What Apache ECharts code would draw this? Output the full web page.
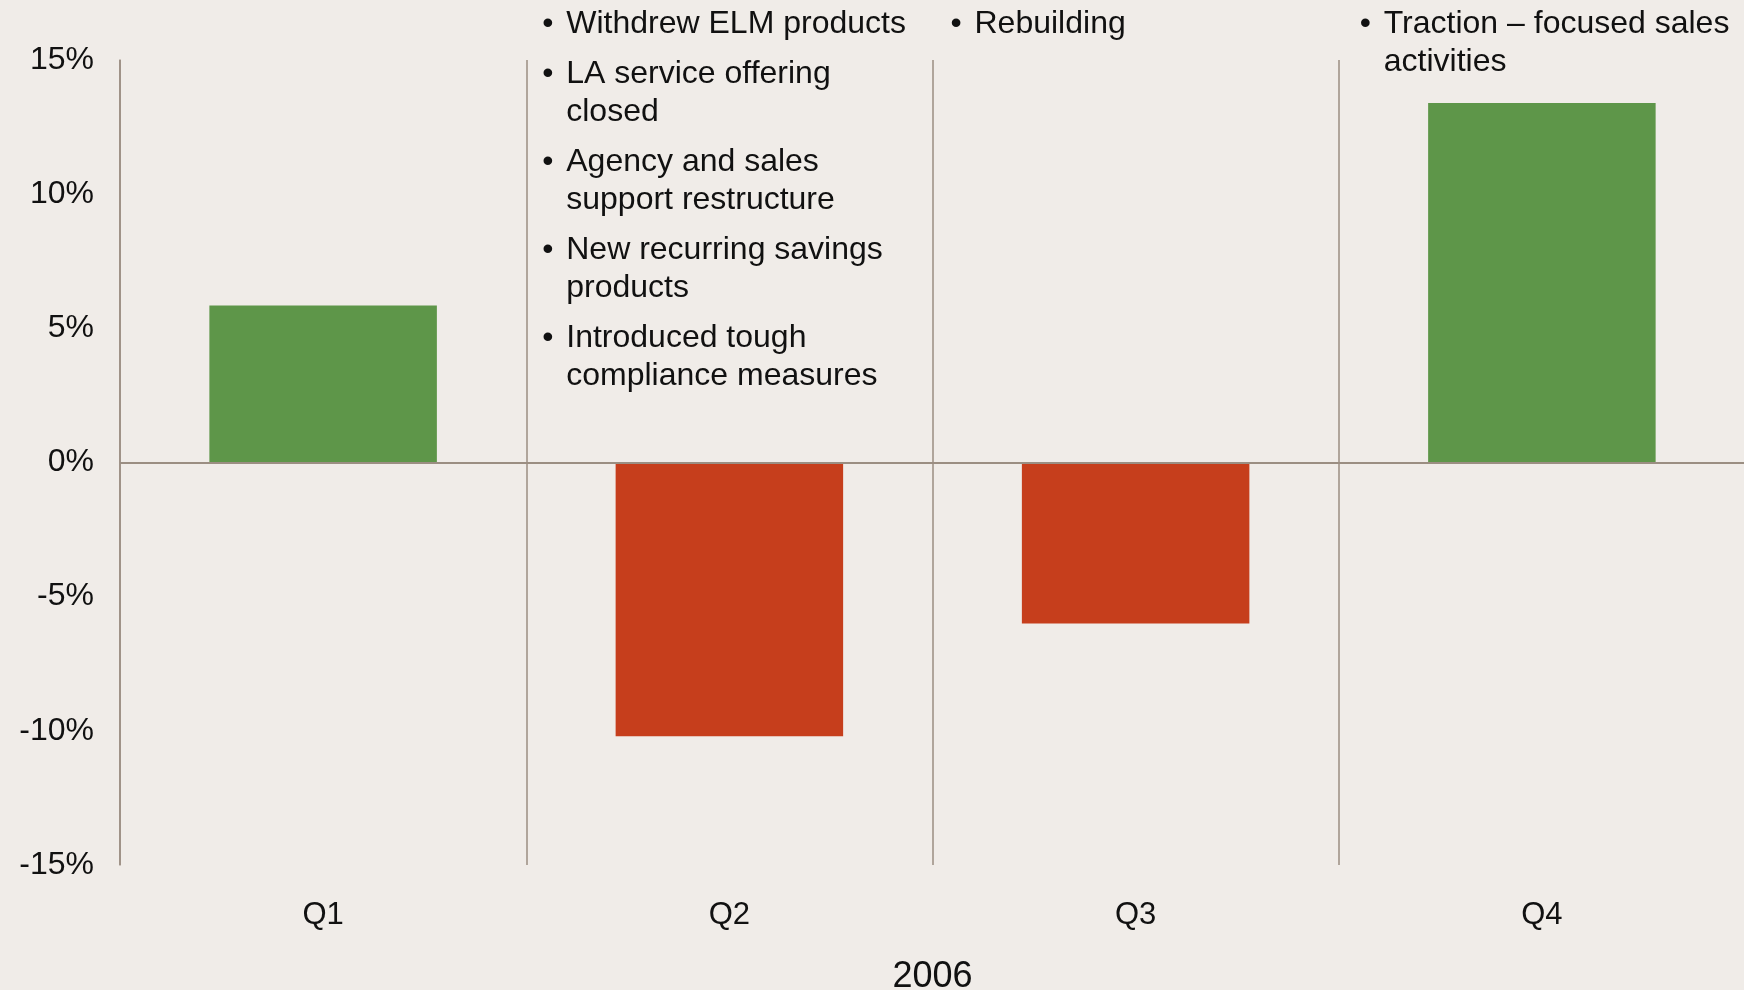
<!DOCTYPE html>
<html>
<head>
<meta charset="utf-8">
<script src="https://cdn.jsdelivr.net/npm/echarts@6/dist/echarts.min.js"></script>
<style>
  html, body { margin: 0; padding: 0; background: #f0ece8; }
  #chart { width: 1744px; height: 990px; }
</style>
</head>
<body>
<div id="chart"></div>
<script>
// chart data
const quarters = ['Q1', 'Q2', 'Q3', 'Q4']
const growth = [5.85, -10.2, -6.0, 13.4]
const yTicks = [-15, -10, -5, 0, 5, 10, 15]
const yearLabel = '2006'

// bullet notes above each quarter (each bullet is a list of wrapped lines)
const notesQ1 = []
const notesQ2 = [
  ['Withdrew ELM products'],
  ['LA service offering', 'closed'],
  ['Agency and sales', 'support restructure'],
  ['New recurring savings', 'products'],
  ['Introduced tough', 'compliance measures']
]
const notesQ3 = [['Rebuilding']]
const notesQ4 = [['Traction \u2013 focused sales', 'activities']]
const notes = [notesQ1, notesQ2, notesQ3, notesQ4]

const font = '"Liberation Sans", Arial, sans-serif'
const axisColor = '#9b8e82'
const green = '#5e9649'
const red = '#c63e1c'
// text indent of the notes from each quarter's left boundary
const noteIndent = [40, 40, 42, 45]

const chart = echarts.init(document.getElementById('chart'), null, { renderer: 'canvas' })

chart.setOption({
  backgroundColor: '#f0ece8',
  animation: false,
  grid: {
    left: 120, right: -1, top: 60, bottom: 125,
    containLabel: false, outerBoundsMode: 'none'
  },
  xAxis: {
    type: 'category',
    data: quarters,
    boundaryGap: true,
    name: yearLabel,
    nameLocation: 'middle',
    nameGap: 94,
    nameTextStyle: { fontFamily: font, fontSize: 36, color: '#111' },
    axisLine: { show: false },
    axisTick: { show: false },
    axisLabel: { fontFamily: font, fontSize: 31, color: '#111', margin: 35 },
    splitLine: { show: true, interval: 0, lineStyle: { color: axisColor, width: 1.5 } }
  },
  yAxis: {
    type: 'value',
    min: yTicks[0],
    max: yTicks[yTicks.length - 1],
    interval: 5,
    axisLine: { show: true, lineStyle: { color: axisColor, width: 1.5 } },
    axisTick: { show: false },
    splitLine: { show: false },
    axisLabel: {
      fontFamily: font, fontSize: 32, color: '#111', margin: 26,
      formatter: '{value}%'
    }
  },
  series: [{
    type: 'bar',
    data: growth,
    barWidth: '56%',
    itemStyle: {
      color: p => (p.value >= 0 ? green : red)
    },
    markLine: {
      silent: true,
      symbol: 'none',
      label: { show: false },
      lineStyle: { color: axisColor, width: 2, type: 'solid' },
      data: [{ yAxis: 0 }]
    }
  }]
})

// place the bullet notes relative to each category's left boundary
const c0 = chart.convertToPixel({ xAxisIndex: 0 }, quarters[0])
const c1 = chart.convertToPixel({ xAxisIndex: 0 }, quarters[1])
const band = c1 - c0
const lineH = 38
const bulletGap = 12
const graphics = []
notes.forEach((list, i) => {
  const left = chart.convertToPixel({ xAxisIndex: 0 }, quarters[i]) - band / 2
  const textX = left + noteIndent[i]
  let y = 5
  list.forEach(lines => {
    graphics.push({
      type: 'text', left: textX - 24, top: y,
      style: { text: '\u2022', font: '32px ' + font, fill: '#111', lineHeight: lineH }
    })
    graphics.push({
      type: 'text', left: textX, top: y,
      style: { text: lines.join('\n'), font: '32px ' + font, fill: '#111', lineHeight: lineH }
    })
    y += lines.length * lineH + bulletGap
  })
})
chart.setOption({ graphic: graphics })
</script>
</body>
</html>
